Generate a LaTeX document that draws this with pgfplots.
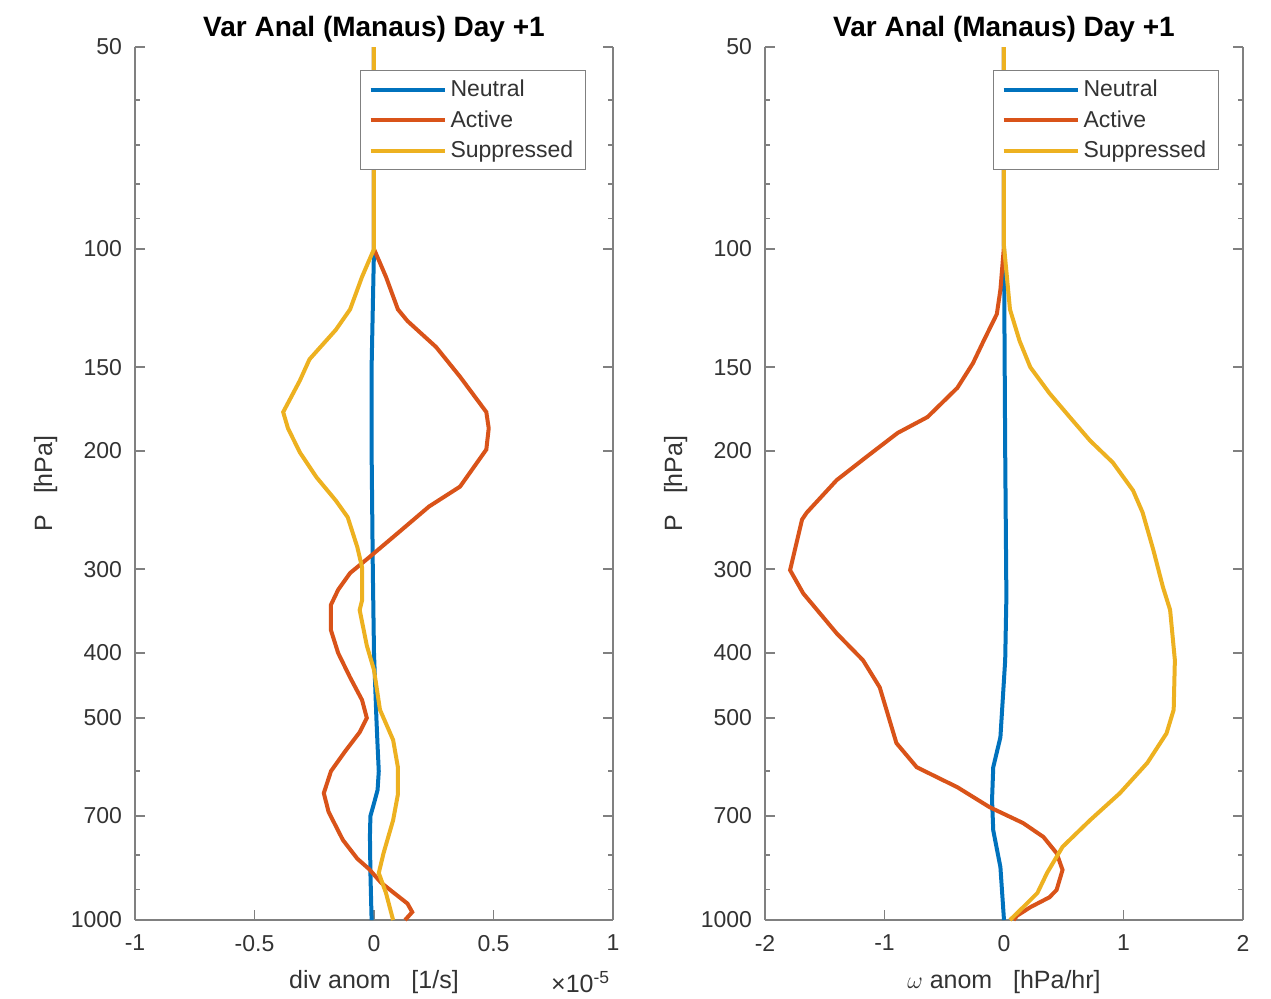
\documentclass[border=0pt]{standalone}
\usepackage{fontspec}
\setmainfont{Liberation Sans}
\usepackage{pgfplots}
\pgfplotsset{compat=1.18}
\definecolor{mblue}{rgb}{0,0.447,0.741}
\definecolor{morange}{rgb}{0.85,0.325,0.098}
\definecolor{myellow}{rgb}{0.929,0.694,0.125}
\definecolor{axgray}{rgb}{0.5,0.5,0.5}
\definecolor{txtgray}{rgb}{0.2,0.2,0.2}
\pgfplotsset{
  legend image code/.code={\draw[#1, line width=2pt] (0pt,0pt) -- (37pt,0pt);},
  every axis/.append style={
  scale only axis, width=239pt, height=436.5pt,
  clip=false,
  axis x line*=bottom, axis y line*=box,
  ymode=log, y dir=reverse, ymin=50, ymax=1000,
  ytick={50,100,150,200,300,400,500,700,1000},
  yticklabels={50,100,150,200,300,400,500,700,1000},
  minor ytick={60,70,80,90,600,800,900},
  tick align=inside,
  major tick length=5pt, minor tick length=2.5pt,
  axis line style={axgray, line width=0.7pt, -},
  tick style={axgray, line width=0.7pt},
  tick label style={font=\fontsize{11.5}{13}\selectfont, text=txtgray},
  xticklabel style={yshift=-4pt},
  yticklabel style={xshift=-3pt},
  label style={font=\fontsize{12.5}{14}\selectfont, text=txtgray},
  xlabel style={at={(axis description cs:0.5,0)}, anchor=base, yshift=-34pt},
  ylabel style={at={(axis description cs:-0.1736,0.5)}, anchor=base},
  ylabel={P\ \ \ [hPa]},
  title style={font=\bfseries\fontsize{14}{16}\selectfont, at={(axis description cs:0.5,1)}, anchor=south, yshift=-7pt},
  title={Var Anal (Manaus) Day +1},
  legend style={draw=axgray, fill=white, line width=0.7pt, font=\fontsize{11.5}{13}\selectfont, text=txtgray,
    inner xsep=4pt, inner ysep=2.5pt, row sep=1.5pt, anchor=north east},
  legend cell align=left,
 },
 every axis plot/.append style={line width=2pt},
}
\begin{document}
\begin{tikzpicture}
\useasboundingbox (0,0) rectangle (635.5pt,-499pt);
\begin{axis}[at={(67.5pt,-460pt)}, anchor=south west,
  xmin=-1, xmax=1, xtick={-1,-0.5,0,0.5,1}, xticklabels={-1,-0.5,0,0.5,1},
  xlabel={div anom\ \ \ [1/s]},
  legend style={at={(axis description cs:0.9435,0.9737)}}]
\addplot[mblue] coordinates {(0,50)(0,100)(-0.01,150)(-0.01,200)(-0.005,300)(0,400)(0.01,500)(0.015,550)(0.02,600)(0.015,640)(0,670)(-0.015,700)(-0.017,750)(-0.015,850)(-0.01,1000)};
\addlegendentry{Neutral}
\addplot[morange] coordinates {(0,50)(0,100)(0.05,110)(0.10,123)(0.14,128)(0.26,140)(0.36,155)(0.47,175)(0.48,185)(0.47,199)(0.36,226)(0.23,242)(0.10,265)(-0.02,288)(-0.10,304)(-0.15,322)(-0.18,339)(-0.18,370)(-0.15,400)(-0.10,435)(-0.05,470)(-0.03,500)(-0.06,525)(-0.12,560)(-0.18,600)(-0.21,647)(-0.19,690)(-0.13,760)(-0.07,810)(-0.02,840)(0.03,880)(0.09,915)(0.14,945)(0.16,973)(0.13,1000)};
\addlegendentry{Active}
\addplot[myellow] coordinates {(0,50)(0,100)(-0.05,110)(-0.10,123)(-0.16,132)(-0.27,146)(-0.31,157)(-0.38,175)(-0.36,185)(-0.31,201)(-0.24,219)(-0.16,237)(-0.11,251)(-0.07,278)(-0.05,298)(-0.05,334)(-0.06,345)(-0.03,390)(0,424)(0.025,486)(0.08,539)(0.10,592)(0.10,650)(0.08,710)(0.04,795)(0.02,851)(0.05,911)(0.08,1000)};
\addlegendentry{Suppressed}
\node[anchor=base east, inner sep=0pt, font=\fontsize{12.5}{14}\selectfont, text=txtgray] at (axis description cs:0.995,-0.0825) {×10\textsuperscript{-5}};
\end{axis}
\begin{axis}[at={(382.5pt,-460pt)}, anchor=south west,
  xmin=-2, xmax=2, xtick={-2,-1,0,1,2}, xticklabels={-2,-1,0,1,2},
  xlabel={$\omega$ anom\ \ \ [hPa/hr]},
  legend style={at={(axis description cs:0.9498,0.9737)}}]
\addplot[mblue] coordinates {(0,50)(0,100)(0.01,200)(0.02,330)(0.01,410)(-0.03,534)(-0.09,592)(-0.10,662)(-0.09,735)(-0.03,834)(0,1000)};
\addlegendentry{Neutral}
\addplot[morange] coordinates {(0,50)(0,99)(-0.03,115)(-0.06,125)(-0.17,137)(-0.26,148)(-0.39,161)(-0.64,178)(-0.89,188)(-1.15,204)(-1.40,221)(-1.65,247)(-1.69,253)(-1.79,301)(-1.68,326)(-1.40,374)(-1.18,410)(-1.04,450)(-0.90,545)(-0.73,592)(-0.39,634)(-0.12,679)(0.16,717)(0.33,752)(0.44,795)(0.49,842)(0.44,902)(0.38,925)(0.22,957)(0.11,985)(0.08,1000)};
\addlegendentry{Active}
\addplot[myellow] coordinates {(0,50)(0,99)(0.05,123)(0.13,137)(0.22,150)(0.38,164)(0.55,178)(0.72,193)(0.91,208)(1.08,229)(1.16,247)(1.25,281)(1.33,319)(1.39,345)(1.43,410)(1.42,486)(1.36,527)(1.20,583)(0.97,647)(0.72,710)(0.49,778)(0.36,851)(0.28,911)(0.16,957)(0.05,1000)};
\addlegendentry{Suppressed}
\end{axis}
\end{tikzpicture}
\end{document}
